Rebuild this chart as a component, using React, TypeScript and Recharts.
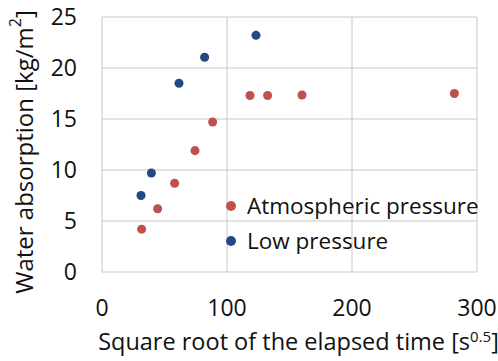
import { ScatterChart, Scatter, XAxis, YAxis, ZAxis, CartesianGrid, Legend, Label } from "recharts"

const atmX = [31.7, 44.5, 58.1, 74.4, 88.5, 118.4, 132.5, 160, 281.9]
const atmY = [4.2, 6.2, 8.7, 11.9, 14.7, 17.3, 17.3, 17.35, 17.5]
const lowX = [31.2, 39.5, 61.6, 82.1, 123.2]
const lowY = [7.5, 9.7, 18.5, 21.05, 23.2]
const xTicks = [0, 100, 200, 300]
const yTicks = [0, 5, 10, 15, 20, 25]

const atmData = atmX.map((x, i) => ({ x, y: atmY[i] }))
const lowData = lowX.map((x, i) => ({ x, y: lowY[i] }))

const FONT = "'Open Sans', sans-serif"
const TXT = "#111"

const XTitle = (props: any) => {
  const vb = props.viewBox
  return (
    <text x={vb.x + vb.width / 2 + 9} y={350} textAnchor="middle" fontSize={23.5} fill={TXT} fontFamily={FONT}>
      Square root of the elapsed time [s<tspan dy={-8} fontSize={15}>0.5</tspan><tspan dy={8}>]</tspan>
    </text>
  )
}

const YTitle = (props: any) => {
  const cx = 23
  const cy = 152
  return (
    <text x={cx} y={cy} transform={`rotate(-90 ${cx} ${cy})`} textAnchor="middle" dominantBaseline="central" fontSize={24} fill={TXT} fontFamily={FONT}>
      Water absorption [kg/m<tspan dy={-8} fontSize={16}>2</tspan><tspan dy={8}>]</tspan>
    </text>
  )
}

const renderLegend = (props: any) => {
  const items = props.payload || []
  return (
    <div style={{ fontFamily: FONT }}>
      {items.map((e: any) => (
        <div key={e.value} style={{ display: 'flex', alignItems: 'center', height: 35 }}>
          <svg width={10} height={10}>
            <circle cx={5} cy={5} r={5} fill={e.color} />
          </svg>
          <span style={{ marginLeft: 11, fontSize: 22.5, color: TXT, whiteSpace: 'nowrap' }}>{e.value}</span>
        </div>
      ))}
    </div>
  )
}

export default function App() {
  return (
    <div style={{ position: 'absolute', left: 0, top: 0, background: '#fff' }}>
      <ScatterChart width={498} height={361} margin={{ top: 17, right: 21, bottom: 0, left: 0 }}>
        <CartesianGrid stroke="#c8c8c8" strokeWidth={1} />
        <XAxis
          type="number"
          dataKey="x"
          domain={[0, 300]}
          ticks={xTicks}
          height={89}
          axisLine={false}
          tickLine={false}
          tickSize={0}
          tickMargin={28}
          tick={{ fontSize: 23, fill: TXT, fontFamily: FONT }}
        >
          <Label content={XTitle} />
        </XAxis>
        <YAxis
          type="number"
          dataKey="y"
          domain={[0, 25]}
          ticks={yTicks}
          width={102}
          axisLine={false}
          tickLine={false}
          tickSize={0}
          tickMargin={25}
          tick={{ fontSize: 23, fill: TXT, fontFamily: FONT }}
        >
          <Label content={YTitle} />
        </YAxis>
        <ZAxis range={[80, 80]} />
        <Legend
          layout="vertical"
          align="center"
          verticalAlign="middle"
          content={renderLegend}
          wrapperStyle={{ left: 226, top: 188, width: 260 }}
        />
        <Scatter name="Atmospheric pressure" data={atmData} fill="#C0504D" shape="circle" isAnimationActive={false} />
        <Scatter name="Low pressure" data={lowData} fill="#1F4A86" shape="circle" isAnimationActive={false} />
      </ScatterChart>
    </div>
  )
}
